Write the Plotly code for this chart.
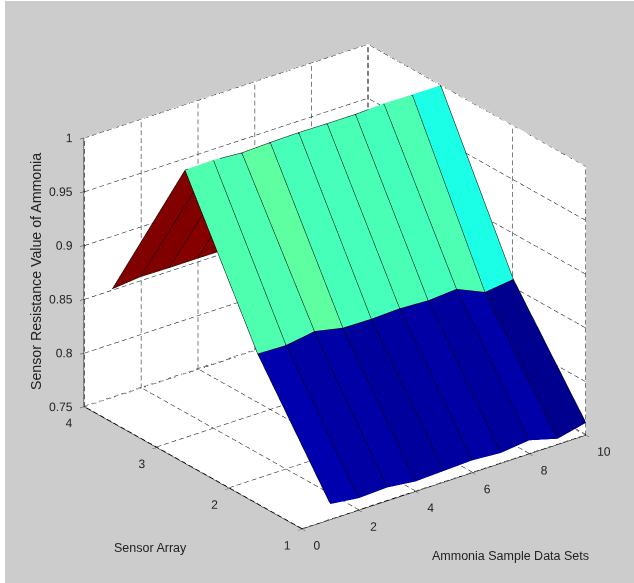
import plotly.graph_objects as go

samples = [1, 2, 3, 4, 5, 6, 7, 8, 9, 10]
sensors = [1, 2, 3, 4]
sensor_1 = [.7645, .7612, .7624, .7593, .7604, .7615, .7596, .7626, .7554, .7615]
sensor_2 = [.8663, .8655, .8698, .8642, .8638, .8648, .8635, .8654, .8538, .8571]
sensor_3 = [.9993, .9998, .9979, .9988, .9993, .9989, .9988, 1.0, .9995, .9994]
sensor_4 = [.851, .8536, .8532, .8532, .853, .853, .852, .854, .853, .853]
rows = [sensor_1, sensor_2, sensor_3, sensor_4]

x_ticks = [0, 2, 4, 6, 8, 10]
y_ticks = [1, 2, 3, 4]
z_ticks = [0.75, 0.8, 0.85, 0.9, 0.95, 1]
x_labels = ["0", "2", "4", "6", "8", "10"]
y_labels = ["1", "2", "3", "4"]
z_labels = ["0.75", "0.8", "0.85", "0.9", "0.95", "1"]
x_range = [0, 10]
y_range = [1, 4]
z_range = [0.75, 1]

jet = [[0, "rgb(0,0,143)"], [.125, "rgb(0,0,255)"], [.375, "rgb(0,255,255)"],
       [.625, "rgb(255,255,0)"], [.875, "rgb(255,0,0)"], [1, "rgb(128,0,0)"]]

# Flat-shaded surface: two triangles per cell, coloured by the cell's first corner
nx, ny = len(samples), len(sensors)
vx, vy, vz, I, J, K, cell = [], [], [], [], [], [], []
for r, row in enumerate(rows):
    for c, v in enumerate(row):
        vx.append(samples[c]); vy.append(sensors[r]); vz.append(v)
for r in range(ny - 1):
    for c in range(nx - 1):
        a = r * nx + c
        b, d, e = a + 1, a + nx, a + nx + 1
        I += [a, a]; J += [b, e]; K += [e, d]
        cell += [rows[r][c]] * 2

fig = go.Figure()
fig.add_trace(go.Mesh3d(x=vx, y=vy, z=vz, i=I, j=J, k=K, intensity=cell, intensitymode="cell",
                        colorscale=jet, cmin=min(min(r) for r in rows), cmax=max(max(r) for r in rows),
                        showscale=False, flatshading=True,
                        lighting=dict(ambient=1, diffuse=0, specular=0, roughness=1, fresnel=0)))

# mesh edges, nudged slightly towards the camera so they are not buried in the faces
EYE = (-.5495, -.7161, .4305)
NUDGE = 0.006
def nudged(v, i, rng):
    return v + EYE[i] * NUDGE * (rng[1] - rng[0])
ex, ey, ez = [], [], []
for c in range(nx):
    for r in range(ny):
        ex.append(nudged(samples[c], 0, x_range)); ey.append(nudged(sensors[r], 1, y_range)); ez.append(nudged(rows[r][c], 2, z_range))
    ex.append(None); ey.append(None); ez.append(None)
for r in range(ny):
    for c in range(nx):
        ex.append(nudged(samples[c], 0, x_range)); ey.append(nudged(sensors[r], 1, y_range)); ez.append(nudged(rows[r][c], 2, z_range))
    ex.append(None); ey.append(None); ez.append(None)
fig.add_trace(go.Scatter3d(x=ex, y=ey, z=ez, mode="lines", line=dict(color="black", width=1)))

# dashed grid on the three back walls, split into short dashes and lifted just off each wall
gx, gy, gz = [], [], []
LIFT = 0.002
def seg(p, q, n, lift):
    for m in range(n):
        t0 = m / n
        t1 = (m + 0.62) / n
        for axis_list, i in ((gx, 0), (gy, 1), (gz, 2)):
            axis_list.extend([p[i] + (q[i] - p[i]) * t0 + lift[i], p[i] + (q[i] - p[i]) * t1 + lift[i], None])
floor = (0, 0, LIFT * (z_range[1] - z_range[0]))
wall_x = (-LIFT * (x_range[1] - x_range[0]), 0, 0)
wall_y = (0, -LIFT * (y_range[1] - y_range[0]), 0)
NX, NY, NZ = 38, 32, 34
for t in x_ticks:
    seg((t, y_range[0], z_range[0]), (t, y_range[1], z_range[0]), NY, floor)
    seg((t, y_range[1], z_range[0]), (t, y_range[1], z_range[1]), NZ, wall_y)
for t in y_ticks:
    seg((x_range[0], t, z_range[0]), (x_range[1], t, z_range[0]), NX, floor)
    seg((x_range[1], t, z_range[0]), (x_range[1], t, z_range[1]), NZ, wall_x)
for t in z_ticks:
    seg((x_range[0], y_range[1], t), (x_range[1], y_range[1], t), NX, wall_y)
    seg((x_range[1], y_range[0], t), (x_range[1], y_range[1], t), NY, wall_x)
fig.add_trace(go.Scatter3d(x=gx, y=gy, z=gz, mode="lines", line=dict(color="black", width=1)))

tick_font = dict(family="Liberation Sans", size=12, color="#222")

# tick labels placed against the axes, as in the reference
fig.add_trace(go.Scatter3d(x=[x_range[0]] * len(z_ticks), y=[y_range[1]] * len(z_ticks), z=z_ticks,
                           mode="text", text=z_labels, textposition="middle left", textfont=tick_font))
fig.add_trace(go.Scatter3d(x=x_ticks, y=[y_range[0]] * len(x_ticks), z=[z_range[0]] * len(x_ticks),
                           mode="text", text=x_labels, textposition="bottom right", textfont=tick_font))
fig.add_trace(go.Scatter3d(x=[x_range[0]] * len(y_ticks), y=y_ticks, z=[z_range[0]] * len(y_ticks),
                           mode="text", text=y_labels, textposition="bottom left", textfont=tick_font))

def axis(rng, vals):
    return dict(range=rng, tickvals=vals, showgrid=False, zeroline=False, showline=True,
                linecolor="black", linewidth=1, ticks="outside", ticklen=5, tickcolor="#333",
                showticklabels=False, showbackground=True,
                backgroundcolor="white", title=dict(text=""), showspikes=False)

title_font = dict(family="Liberation Sans", size=12.5, color="#222")
fig.update_layout(
    width=634, height=583, autosize=False, showlegend=False,
    paper_bgcolor="white", margin=dict(l=0, r=0, t=0, b=0),
    shapes=[dict(type="rect", xref="paper", yref="paper", x0=5/634, x1=1, y0=0, y1=1-1/583,
                 fillcolor="#cccccc", line=dict(width=0), layer="below")],
    scene=dict(
        domain=dict(x=[0.057, 1], y=[0.0172, 1]),
        xaxis=axis(x_range, x_ticks), yaxis=axis(y_range, y_ticks),
        zaxis=axis(z_range, z_ticks),
        aspectmode="manual", aspectratio=dict(x=1.25, y=1.25, z=1.04),
        camera=dict(projection=dict(type="orthographic"), up=dict(x=0, y=0, z=1),
                    eye=dict(x=EYE[0]*2, y=EYE[1]*2, z=EYE[2]*2)),
    ),
    annotations=[
        dict(text="Ammonia Sample Data Sets", x=510/634, y=1-556/583, xref="paper", yref="paper",
             xanchor="center", yanchor="middle", showarrow=False, font=title_font),
        dict(text="Sensor Array", x=150/634, y=1-548/583, xref="paper", yref="paper",
             xanchor="center", yanchor="middle", showarrow=False, font=title_font),
        dict(text="Sensor Resistance Value of Ammonia", x=36/634, y=1-272/583, xref="paper", yref="paper",
             xanchor="center", yanchor="middle", showarrow=False, textangle=-90,
             font=dict(family="Liberation Sans", size=14.2, color="#222")),
    ],
)
fig.write_html("out.html", config=dict(displayModeBar=False), post_script="document.body.style.margin='0';")
